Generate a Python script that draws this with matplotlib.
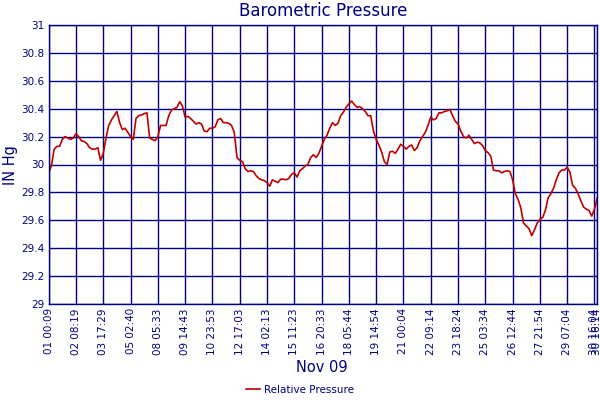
import matplotlib
matplotlib.use('Agg')
import matplotlib.pyplot as plt

# readings, one every ~1/10 of a label interval
pressure = [
    29.94, 29.99, 30.11, 30.13, 30.13, 30.18, 30.20, 30.19, 30.18, 30.19, 30.22,
    30.20, 30.17, 30.165, 30.15, 30.12, 30.11, 30.11, 30.12, 30.03, 30.08,
    30.19, 30.28, 30.32, 30.35, 30.38, 30.30, 30.25, 30.26, 30.23, 30.20,
    30.18, 30.33, 30.35, 30.355, 30.365, 30.37, 30.19, 30.18, 30.17, 30.20,
    30.28, 30.28, 30.28, 30.35, 30.39, 30.40, 30.41, 30.45, 30.42, 30.34,
    30.345, 30.33, 30.31, 30.29, 30.30, 30.29, 30.24, 30.235, 30.26, 30.26,
    30.27, 30.32, 30.33, 30.30, 30.30, 30.295, 30.28, 30.23, 30.05, 30.03,
    30.02, 29.97, 29.95, 29.955, 29.95, 29.92, 29.90, 29.89, 29.885, 29.87,
    29.845, 29.89, 29.88, 29.87, 29.895, 29.895, 29.89, 29.90, 29.93, 29.94,
    29.91, 29.955, 29.97, 29.99, 30.00, 30.05, 30.07, 30.05, 30.08, 30.13,
    30.18, 30.21, 30.26, 30.30, 30.28, 30.295, 30.35, 30.375, 30.41, 30.435,
    30.455, 30.43, 30.41, 30.415, 30.40, 30.38, 30.35, 30.35, 30.24, 30.18,
    30.14, 30.09, 30.02, 30.00, 30.09, 30.095, 30.08, 30.11, 30.145, 30.13,
    30.11, 30.13, 30.14, 30.10, 30.12, 30.17, 30.20, 30.23, 30.28, 30.34,
    30.32, 30.33, 30.37, 30.37, 30.38, 30.385, 30.395, 30.35, 30.31, 30.29,
    30.24, 30.20, 30.19, 30.21, 30.18, 30.15, 30.16, 30.155, 30.135, 30.10,
    30.085, 30.06, 29.96, 29.955, 29.955, 29.94, 29.95, 29.955, 29.95, 29.89,
    29.79, 29.75, 29.69, 29.58, 29.56, 29.54, 29.49, 29.53, 29.58, 29.607,
    29.62, 29.67, 29.76, 29.79, 29.83, 29.89, 29.94, 29.96, 29.96, 29.98,
    29.945, 29.85, 29.83, 29.79, 29.74, 29.695, 29.68, 29.67, 29.63, 29.68,
    29.76,
]

tick_labels = ['01 00:09', '02 08:19', '03 17:29', '05 02:40', '08 05:33',
               '09 14:43', '10 23:53', '12 17:03', '14 02:13', '15 11:23',
               '16 20:33', '18 05:44', '19 14:54', '21 00:04', '22 09:14',
               '23 18:24', '25 03:34', '26 12:44', '27 21:54', '29 07:04',
               '30 16:04', '30 16:14']
y_ticks = [29, 29.2, 29.4, 29.6, 29.8, 30, 30.2, 30.4, 30.6, 30.8, 31]
y_labels = ['29', '29.2', '29.4', '29.6', '29.8', '30', '30.2', '30.4', '30.6', '30.8', '31']

navy = '#000080'
red = '#c00000'

n = len(pressure)
x = list(range(n))
tick_pos = list(range(0, n - 1, 10)) + [n - 1]

fig = plt.figure(figsize=(6, 4), dpi=100)
ax = fig.add_axes([48.7 / 600, 96 / 400, 548.5 / 600, 279 / 400])

ax.plot(x, pressure, color=red, lw=1.2, label='Relative Pressure')

ax.set_xlim(0, n - 1)
ax.set_ylim(29, 31)
ax.set_xticks(tick_pos)
ax.set_xticklabels(tick_labels, rotation=90, fontsize=7.5, color=navy)
ax.set_yticks(y_ticks)
ax.set_yticklabels(y_labels, fontsize=7.5, color=navy)
ax.tick_params(length=0, pad=3)
ax.grid(True, color=navy, lw=1)
for s in ax.spines.values():
    s.set_color(navy)
    s.set_linewidth(1)

fig.text(0.539, 1 - 11 / 400, 'Barometric Pressure', ha='center', va='center',
         fontsize=12, color=navy)
fig.text(10 / 600, 1 - 165 / 400, 'IN Hg', rotation=90, ha='center', va='center',
         fontsize=10.5, color=navy)
fig.text(322 / 600, 1 - 367 / 400, 'Nov 09', ha='center', va='center',
         fontsize=10.5, color=navy)

leg = fig.legend(loc='center', bbox_to_anchor=(0.5, 1 - 390 / 400), frameon=False,
                 fontsize=7.5, handlelength=1.3, handletextpad=0.4)
for t in leg.get_texts():
    t.set_color(navy)

fig.savefig('out.png', dpi=100)
